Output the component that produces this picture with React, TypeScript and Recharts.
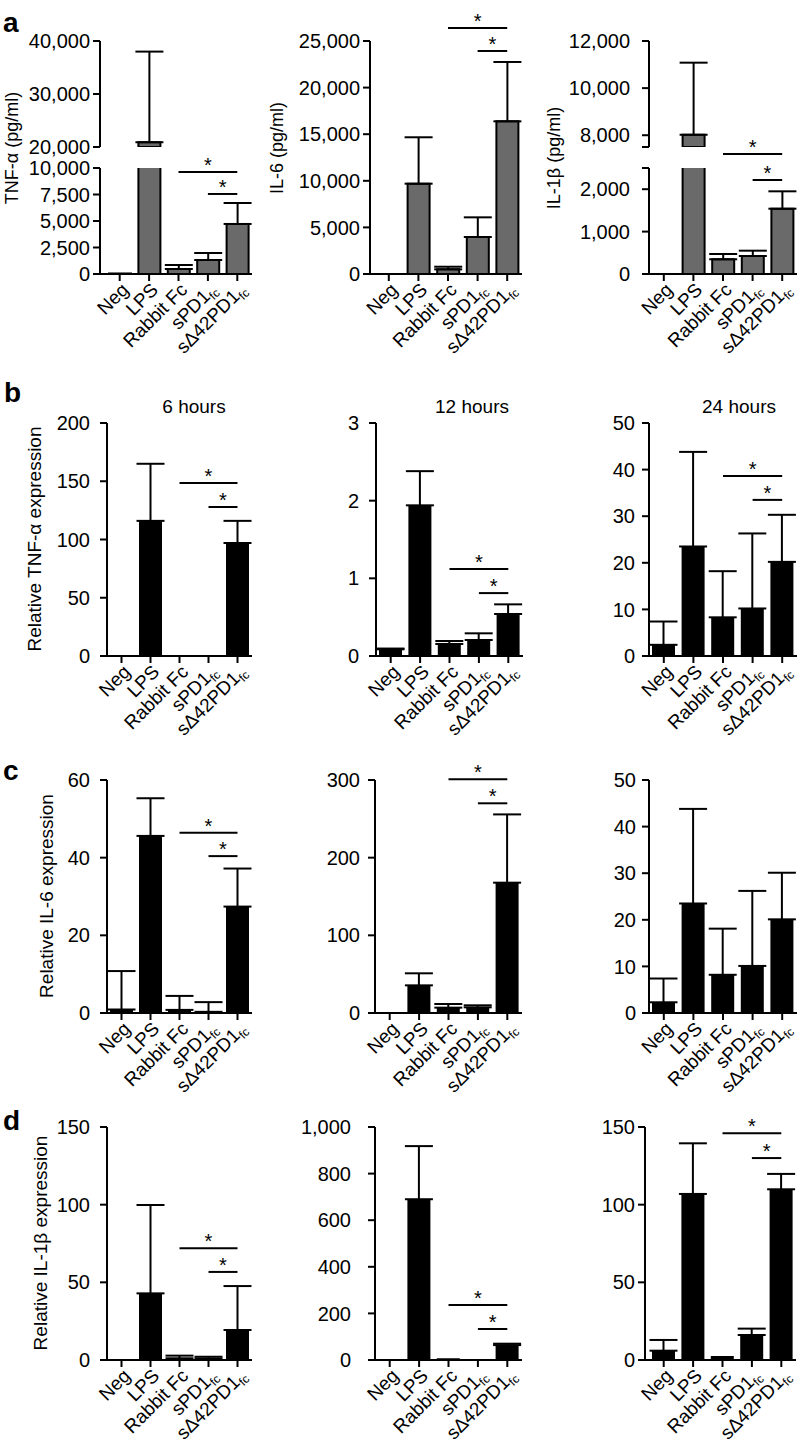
import React from 'react';
import { BarChart, Bar, XAxis, YAxis, ErrorBar, ReferenceLine } from 'recharts';

const FONT = '"Liberation Sans", Arial, Helvetica, sans-serif';

// x categories (the last two carry a subscript "fc")
const categories = ['Neg', 'LPS', 'Rabbit Fc', 'sPD1fc', 'sΔ42PD1fc'];
const tickMain = ['Neg', 'LPS', 'Rabbit Fc', 'sPD1', 'sΔ42PD1'];
const tickSub = ['', '', '', 'fc', 'fc'];

// a: secreted cytokines (pg/ml) – mean and upper SD
const tnfPg = [50, 20900, 470, 1320, 4720];
const tnfPgSd = [0, 17100, 380, 660, 1980];
const il6Pg = [0, 9690, 500, 3970, 16380];
const il6PgSd = [0, 4980, 280, 2110, 6370];
const il1bPg = [0, 8020, 347, 425, 1540];
const il1bPgSd = [0, 3060, 125, 125, 410];

// b: relative TNF-α expression at 6 / 12 / 24 hours
const tnf6h = [0, 116, 0.8, 0, 97];
const tnf6hSd = [0, 49, 0, 0, 19];
const tnf12h = [0.086, 1.94, 0.155, 0.206, 0.541];
const tnf12hSd = [0.01, 0.44, 0.038, 0.086, 0.124];
const tnf24h = [2.4, 23.5, 8.3, 10.2, 20.2];
const tnf24hSd = [5.0, 20.3, 9.9, 16.1, 10.1];

// c: relative IL-6 expression
const il66h = [0.9, 45.6, 0.8, 0.3, 27.4];
const il66hSd = [9.9, 9.7, 3.6, 2.5, 9.8];
const il612h = [0, 35.6, 6.9, 7.3, 167.8];
const il612hSd = [0, 15.5, 4.7, 2.6, 87.9];
const il624h = [2.3, 23.5, 8.2, 10.1, 20.1];
const il624hSd = [5.1, 20.3, 9.9, 16.1, 10.0];

// d: relative IL-1β expression
const il1b6h = [0.6, 42.9, 1.1, 1.0, 19.3];
const il1b6hSd = [0, 56.9, 1.7, 1.1, 28.3];
const il1b12h = [3, 690, 7, 4, 64];
const il1b12hSd = [0, 228, 0, 0, 6];
const il1b24h = [6.0, 106.9, 2.6, 16.1, 109.9];
const il1b24hSd = [6.9, 32.6, 0, 4.1, 9.9];

// significance brackets: [from category, to category, height in data units]
const sigTnfPg = [[2, 4, 9620], [3, 4, 7550]];
const sigIl6Pg = [[2, 4, 26400], [3, 4, 23930]];
const sigIl1bPg = [[2, 4, 2830], [3, 4, 2217]];
const sigTnf6h = [[2, 4, 148.5], [3, 4, 127.9]];
const sigTnf12h = [[2, 4, 1.12], [3, 4, 0.81]];
const sigTnf24h = [[2, 4, 38.6], [3, 4, 33.5]];
const sigIl66h = [[2, 4, 46.4], [3, 4, 40.4]];
const sigIl612h = [[2, 4, 301], [3, 4, 270]];
const sigIl1b6h = [[2, 4, 72], [3, 4, 56.7]];
const sigIl1b12h = [[2, 4, 236], [3, 4, 133]];
const sigIl1b24h = [[2, 4, 146], [3, 4, 130]];

const axisStyle = { stroke: '#000', strokeWidth: 2 };

const CategoryTick = (props: any) => {
  const { x, y, payload } = props;
  const i = categories.indexOf(payload.value);
  return (
    <g transform={`translate(${x + 10},${y + 10})`}>
      <text transform="rotate(-45)" textAnchor="end" fill="#000" fontSize={19} fontFamily={FONT}>
        <tspan>{tickMain[i]}</tspan>
        {tickSub[i] && (
          <tspan fontSize={12} dy={4}>
            {tickSub[i]}
          </tspan>
        )}
      </text>
    </g>
  );
};

interface PanelProps {
  left: number;
  top: number;
  width: number;
  height: number;
  axisX: number;
  plotRight: number;
  plotTop: number;
  plotBottom: number;
  padLeft?: number;
  values: number[];
  sd: number[];
  domain: [number, number];
  ticks: number[];
  hidden?: number[];
  tickGap: number;
  grey?: boolean;
  showX?: boolean;
  sig?: number[][];
}

function BarPanel(p: PanelProps) {
  const [lo, hi] = p.domain;
  // bars below the segment are left out, bars above are clipped by the plot area
  const data = categories.map((name, i) => {
    const v = p.values[i];
    const shown = v >= lo;
    return {
      name,
      value: shown ? v : null,
      err: shown && v <= hi && p.sd[i] > 0 ? [0, p.sd[i]] : undefined,
    };
  });
  const showX = p.showX !== false;
  const xHeight = p.top + p.height - p.plotBottom;
  return (
    <div style={{ position: 'absolute', left: p.left, top: p.top }}>
      <BarChart
        width={p.width}
        height={p.height}
        data={data}
        margin={{
          top: p.plotTop - p.top,
          right: p.left + p.width - p.plotRight,
          bottom: showX ? 0 : xHeight,
          left: 0,
        }}
      >
        <XAxis
          dataKey="name"
          hide={!showX}
          height={xHeight}
          padding={{ left: p.padLeft ?? 0, right: 0 }}
          axisLine={axisStyle}
          tickLine={axisStyle}
          tickSize={7}
          tickMargin={0}
          interval={0}
          tick={<CategoryTick />}
        />
        <YAxis
          type="number"
          domain={p.domain}
          ticks={p.ticks}
          allowDataOverflow
          interval={0}
          width={p.axisX - p.left}
          axisLine={axisStyle}
          tickLine={axisStyle}
          tickSize={7}
          tickMargin={p.tickGap}
          tick={{ fill: '#000', fontSize: 20, fontFamily: FONT }}
          tickFormatter={(v: number) => ((p.hidden ?? []).includes(v) ? '' : v.toLocaleString('en-US'))}
        />
        <Bar
          dataKey="value"
          fill={p.grey ? '#6a6a6a' : '#000'}
          stroke="#000"
          strokeWidth={p.grey ? 2 : 0}
          barSize={p.grey ? 22 : 23}
          isAnimationActive={false}
        >
          <ErrorBar dataKey="err" width={14} strokeWidth={2} stroke="#000" direction="y" />
        </Bar>
        {(p.sig ?? []).map(([a, b, y], k) => (
          <ReferenceLine
            key={k}
            segment={[
              { x: categories[a], y },
              { x: categories[b], y },
            ]}
            stroke="#000"
            strokeWidth={2}
            ifOverflow="visible"
            label={{ value: '*', position: 'top', offset: 0, fill: '#000', fontSize: 20, fontFamily: FONT }}
          />
        ))}
      </BarChart>
    </div>
  );
}

const panelLetters = [
  ['a', 3, 32],
  ['b', 4, 402],
  ['c', 3, 780],
  ['d', 3, 1130],
];

const yLabels: [string, number, number, number][] = [
  ['TNF-α (pg/ml)', 12, 148, 18],
  ['IL-6 (pg/ml)', 277, 148, 18],
  ['IL-1β (pg/ml)', 554, 158, 18],
  ['Relative TNF-α expression', 34, 539, 19],
  ['Relative IL-6 expression', 46, 896, 19],
  ['Relative IL-1β expression', 40, 1243, 19],
];

const titles: [string, number][] = [
  ['6 hours', 194],
  ['12 hours', 472],
  ['24 hours', 739],
];

export default function App() {
  // column and row frames
  const L = { left: 0, width: 265, axisX: 107, plotRight: 252 };
  const M = { left: 265, width: 265, axisX: 376, plotRight: 523 };
  const R = { left: 530, width: 272, axisX: 649, plotRight: 797 };
  const rowB = { top: 395, height: 390, plotTop: 423, plotBottom: 656 };
  const rowC = { top: 740, height: 400, plotTop: 780, plotBottom: 1013 };
  const rowD = { top: 1090, height: 365, plotTop: 1127, plotBottom: 1360 };

  return (
    <div style={{ position: 'absolute', left: 0, top: 0, width: 802, height: 1455, background: '#fff' }}>
      {/* a: TNF-α with broken axis */}
      <BarPanel
        left={0} top={0} width={265} height={160} axisX={100} plotRight={252} plotTop={41} plotBottom={147}
        padLeft={5} values={tnfPg} sd={tnfPgSd} domain={[20000, 40000]} ticks={[20000, 30000, 40000]}
        tickGap={3} grey showX={false}
      />
      <BarPanel
        left={0} top={0} width={265} height={370} axisX={100} plotRight={252} plotTop={168} plotBottom={274}
        padLeft={5} values={tnfPg} sd={tnfPgSd} domain={[0, 10000]} ticks={[0, 2500, 5000, 7500, 10000]}
        tickGap={3} grey sig={sigTnfPg}
      />
      {/* a: IL-6 */}
      <BarPanel
        left={265} top={0} width={265} height={370} axisX={370} plotRight={522} plotTop={41} plotBottom={274}
        padLeft={4} values={il6Pg} sd={il6PgSd} domain={[0, 25000]} ticks={[0, 5000, 10000, 15000, 20000, 25000]}
        tickGap={3} grey sig={sigIl6Pg}
      />
      {/* a: IL-1β with broken axis */}
      <BarPanel
        left={530} top={0} width={272} height={160} axisX={649} plotRight={797} plotTop={41} plotBottom={147}
        values={il1bPg} sd={il1bPgSd} domain={[7500, 12000]} ticks={[7500, 8000, 10000, 12000]} hidden={[7500]}
        tickGap={12} grey showX={false}
      />
      <BarPanel
        left={530} top={0} width={272} height={370} axisX={649} plotRight={797} plotTop={168} plotBottom={274}
        values={il1bPg} sd={il1bPgSd} domain={[0, 2500]} ticks={[0, 1000, 2000, 2500]} hidden={[2500]}
        tickGap={12} grey sig={sigIl1bPg}
      />

      {/* b: TNF-α expression */}
      <BarPanel {...L} {...rowB} values={tnf6h} sd={tnf6hSd} domain={[0, 200]} ticks={[0, 50, 100, 150, 200]} tickGap={10} sig={sigTnf6h} />
      <BarPanel {...M} {...rowB} values={tnf12h} sd={tnf12hSd} domain={[0, 3]} ticks={[0, 1, 2, 3]} tickGap={10} sig={sigTnf12h} />
      <BarPanel {...R} {...rowB} values={tnf24h} sd={tnf24hSd} domain={[0, 50]} ticks={[0, 10, 20, 30, 40, 50]} tickGap={7} sig={sigTnf24h} />

      {/* c: IL-6 expression */}
      <BarPanel {...L} {...rowC} values={il66h} sd={il66hSd} domain={[0, 60]} ticks={[0, 20, 40, 60]} tickGap={10} sig={sigIl66h} />
      <BarPanel {...M} axisX={375} plotRight={522} {...rowC} values={il612h} sd={il612hSd} domain={[0, 300]} ticks={[0, 100, 200, 300]} tickGap={8} sig={sigIl612h} />
      <BarPanel {...R} {...rowC} values={il624h} sd={il624hSd} domain={[0, 50]} ticks={[0, 10, 20, 30, 40, 50]} tickGap={6} />

      {/* d: IL-1β expression */}
      <BarPanel {...L} {...rowD} values={il1b6h} sd={il1b6hSd} domain={[0, 150]} ticks={[0, 50, 100, 150]} tickGap={10} sig={sigIl1b6h} />
      <BarPanel {...M} axisX={375} plotRight={522} {...rowD} values={il1b12h} sd={il1b12hSd} domain={[0, 1000]} ticks={[0, 200, 400, 600, 800, 1000]} tickGap={17} sig={sigIl1b12h} />
      <BarPanel {...R} axisX={645} plotRight={796} padLeft={4} {...rowD} values={il1b24h} sd={il1b24hSd} domain={[0, 150]} ticks={[0, 50, 100, 150]} tickGap={3} sig={sigIl1b24h} />

      <svg width={802} height={1455} style={{ position: 'absolute', left: 0, top: 0, pointerEvents: 'none' }}>
        {panelLetters.map(([t, x, y]) => (
          <text key={t as string} x={x as number} y={y as number} fontSize={28} fontWeight="bold" fontFamily={FONT} fill="#000">
            {t}
          </text>
        ))}
        {yLabels.map(([t, x, y, fs]) => (
          <text
            key={t}
            transform={`translate(${x},${y}) rotate(-90)`}
            textAnchor="middle"
            dominantBaseline="central"
            fontSize={fs}
            fontFamily={FONT}
            fill="#000"
          >
            {t}
          </text>
        ))}
        {titles.map(([t, x]) => (
          <text key={t} x={x} y={413} textAnchor="middle" fontSize={19} fontFamily={FONT} fill="#000">
            {t}
          </text>
        ))}
      </svg>
    </div>
  );
}
